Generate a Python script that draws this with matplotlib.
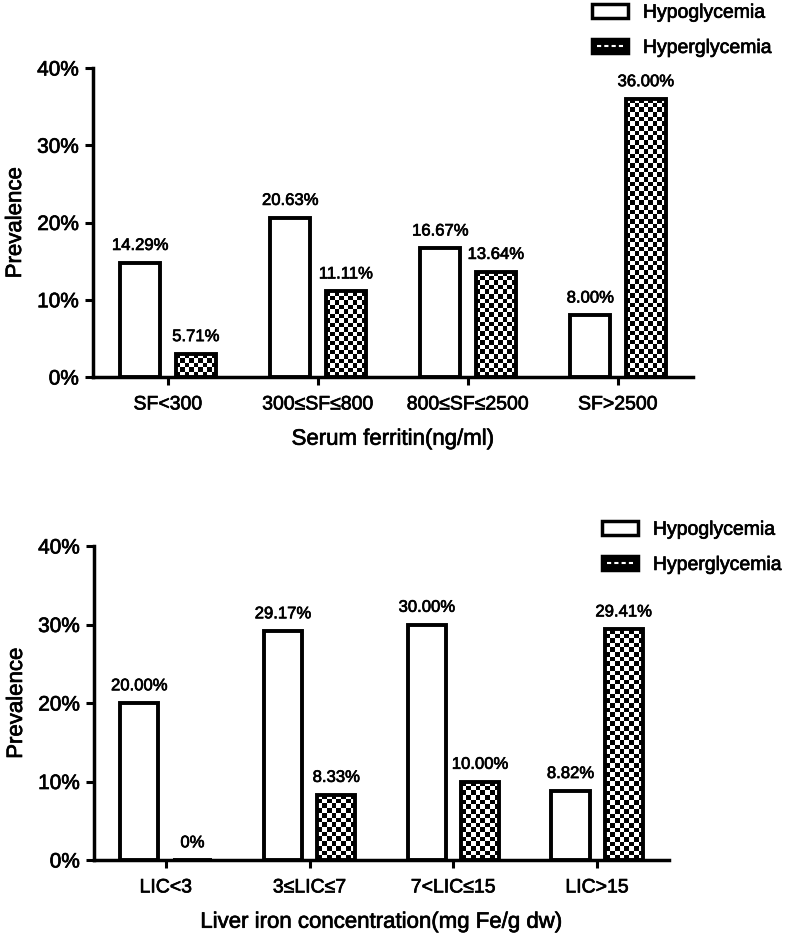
import numpy as np
import matplotlib
matplotlib.use('Agg')
import matplotlib.pyplot as plt
import matplotlib.patheffects as pe
from matplotlib.patches import Patch, Rectangle
from matplotlib.lines import Line2D
from matplotlib.legend_handler import HandlerBase

plt.rcParams['font.family'] = ['Liberation Sans', 'DejaVu Sans']

# Serum ferritin panel
sf_cats = ['SF<300', '300≤SF≤800', '800≤SF≤2500', 'SF>2500']
sf_hypo = [14.8, 20.63, 16.67, 8.0]
sf_hyper = [3.0, 11.11, 13.64, 36.0]
sf_hypo_labels = ['14.29%', '20.63%', '16.67%', '8.00%']
sf_hyper_labels = ['5.71%', '11.11%', '13.64%', '36.00%']

# Liver iron concentration panel
lic_cats = ['LIC<3', '3≤LIC≤7', '7<LIC≤15', 'LIC>15']
lic_hypo = [20.0, 29.17, 30.0, 8.82]
lic_hyper = [0.0, 8.33, 10.0, 29.41]
lic_hypo_labels = ['20.00%', '29.17%', '30.00%', '8.82%']
lic_hyper_labels = ['0%', '8.33%', '10.00%', '29.41%']

series_names = ['Hypoglycemia', 'Hyperglycemia']

# slightly heavier text, like the scanned original
heavy = [pe.withStroke(linewidth=0.5, foreground='black')]


class HandlerChecker(HandlerBase):
    def create_artists(self, legend, orig_handle, xdescent, ydescent,
                       width, height, fontsize, trans):
        box = Rectangle((-xdescent, -ydescent), width, height,
                        facecolor='black', edgecolor='black', linewidth=2.5,
                        transform=trans)
        y = -ydescent + height / 2
        dash = Line2D([-xdescent + width * 0.15, -xdescent + width * 0.85], [y, y],
                      color='white', linewidth=1.5, linestyle=(0, (2, 1.5)),
                      transform=trans)
        return [box, dash]


def checker_fill(ax, bars):
    # checkerboard texture clipped to each bar
    for rect in bars:
        x0, y0 = rect.get_x(), rect.get_y()
        w, h = rect.get_width(), rect.get_height()
        if h <= 0:
            continue
        p0 = ax.transData.transform((x0, y0))
        p1 = ax.transData.transform((x0 + w, y0 + h))
        ncols = max(1, int(round((p1[0] - p0[0]) / 4.6)))
        nrows = max(1, int(round((p1[1] - p0[1]) / 4.6)))
        grid = np.indices((nrows, ncols)).sum(axis=0) % 2
        im = ax.imshow(grid, cmap='gray', extent=[x0, x0 + w, y0, y0 + h],
                       origin='lower', interpolation='nearest', aspect='auto',
                       zorder=2)
        im.set_clip_path(rect)


def panel(fig, rect, cats, hypo, hyper, hypo_labels, hyper_labels, xlabel,
          legend_anchor):
    ax = fig.add_axes(rect)
    x = np.arange(len(cats))
    width = 0.265
    off = 0.185

    b1 = ax.bar(x - off, hypo, width, facecolor='white', edgecolor='black',
                linewidth=2.8, zorder=3)
    b2 = ax.bar(x + off, hyper, width, facecolor='none', edgecolor='black',
                linewidth=2.8, zorder=3)

    ax.set_xlim(-0.5, len(cats) - 0.5)
    ax.set_ylim(0, 40)
    checker_fill(ax, b2)

    for bars, labels in ((b1, hypo_labels), (b2, hyper_labels)):
        for r, lab in zip(bars, labels):
            ax.annotate(lab, (r.get_x() + r.get_width() / 2, r.get_height()),
                        xytext=(0, 7), textcoords='offset points',
                        ha='center', va='bottom', fontsize=12, path_effects=heavy)

    ax.set_yticks([0, 10, 20, 30, 40])
    ax.set_yticklabels(['0%', '10%', '20%', '30%', '40%'])
    ax.set_xticks(x)
    ax.set_xticklabels(cats)
    ax.tick_params(axis='y', labelsize=15, width=2.2, length=6, pad=4)
    ax.tick_params(axis='x', labelsize=14, width=2.2, length=6, pad=8)
    ax.set_ylabel('Prevalence', fontsize=16, labelpad=8, path_effects=heavy)
    ax.set_xlabel(xlabel, fontsize=16, labelpad=11, path_effects=heavy)
    for t in ax.get_xticklabels() + ax.get_yticklabels():
        t.set_path_effects(heavy)

    for s in ('top', 'right'):
        ax.spines[s].set_visible(False)
    for s in ('left', 'bottom'):
        ax.spines[s].set_linewidth(2.5)

    handles = [Patch(facecolor='white', edgecolor='black', linewidth=2.5),
               Patch(facecolor='black')]
    leg = ax.legend(handles, series_names, loc='upper left',
                    bbox_to_anchor=legend_anchor, bbox_transform=fig.transFigure,
                    frameon=False, fontsize=14, handlelength=1.85, handleheight=0.72,
                    handletextpad=0.77, labelspacing=0.9, borderpad=0,
                    borderaxespad=0, handler_map={handles[1]: HandlerChecker()})
    for t in leg.get_texts():
        t.set_path_effects(heavy)
    return ax


W, H = 786, 936
fig = plt.figure(figsize=(W / 100, H / 100), dpi=100)

panel(fig, [93 / W, 1 - 377 / H, 600 / W, 309 / H],
      sf_cats, sf_hypo, sf_hyper, sf_hypo_labels, sf_hyper_labels,
      'Serum ferritin(ng/ml)', (592 / W, 1 - 4 / H))

panel(fig, [94 / W, 1 - 860 / H, 575 / W, 314 / H],
      lic_cats, lic_hypo, lic_hyper, lic_hypo_labels, lic_hyper_labels,
      'Liver iron concentration(mg Fe/g dw)', (602 / W, 1 - 521 / H))

fig.savefig('out.png', dpi=100)
